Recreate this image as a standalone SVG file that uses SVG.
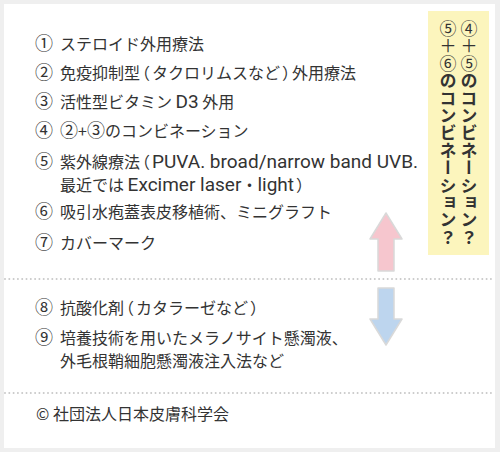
<svg xmlns="http://www.w3.org/2000/svg" width="500" height="452" viewBox="0 0 500 452">
<style>
.t{font-family:"Noto Sans CJK JP","Noto Sans",sans-serif;font-size:16px;fill:#333}
.c{font-size:18px}
.h{font-feature-settings:"halt";letter-spacing:2px}
.l{font-family:Roboto,"Noto Sans CJK JP",sans-serif;font-size:19px}
.v{font-family:"Noto Sans CJK JP",sans-serif;font-size:17px;font-weight:bold;fill:#333;writing-mode:vertical-rl;letter-spacing:0.4px}
.n{font-weight:normal}
.dot{stroke:#c9c9c9;stroke-width:2;stroke-linecap:round;stroke-dasharray:0 4.3;fill:none}
.arr{stroke:#d9d9d9;stroke-width:1.5;stroke-linejoin:round}
</style>
<rect x="0" y="0" width="500" height="452" fill="#efefef"/>
<rect x="4" y="4" width="491" height="444" fill="#ffffff"/>
<g id="combo">
<rect x="428" y="11" width="61" height="244" fill="#fcf5bd"/>
<text class="v" x="469" y="20"><tspan class="n">④＋⑤</tspan>のコンビネーション？</text>
<text class="v" x="448" y="20"><tspan class="n">⑤＋⑥</tspan>のコンビネーション？</text>
</g>
<g id="upper">
<text class="t" x="35" y="50"><tspan class="c">①</tspan><tspan x="60">ステロイド外用療法</tspan></text>
<text class="t" x="35" y="79"><tspan class="c">②</tspan><tspan x="60">免疫抑制型<tspan class="h" dx="2">（</tspan>タクロリムスなど<tspan class="h" dx="2">）</tspan>外用療法</tspan></text>
<text class="t" x="35" y="108"><tspan class="c">③</tspan><tspan x="60">活性型ビタミン <tspan class="l">D3</tspan> 外用</tspan></text>
<text class="t" x="35" y="137"><tspan class="c">④</tspan><tspan x="60"><tspan class="c">②</tspan>+<tspan class="c">③</tspan>のコンビネーション</tspan></text>
<text class="t" x="35" y="168"><tspan class="c">⑤</tspan><tspan x="60">紫外線療法<tspan class="h" dx="2">（</tspan><tspan class="l">PUVA. broad/narrow band UVB.</tspan></tspan></text>
<text class="t" x="60" y="191">最近では <tspan class="l">Excimer laser</tspan>・<tspan class="l">light</tspan><tspan class="h" dx="2">）</tspan></text>
<text class="t" x="35" y="218"><tspan class="c">⑥</tspan><tspan x="60">吸引水疱蓋表皮移植術、ミニグラフト</tspan></text>
<text class="t" x="35" y="249"><tspan class="c">⑦</tspan><tspan x="60">カバーマーク</tspan></text>
</g>
<g id="lower">
<text class="t" x="35" y="314"><tspan class="c">⑧</tspan><tspan x="60">抗酸化剤<tspan class="h" dx="2">（</tspan>カタラーゼなど<tspan class="h" dx="2">）</tspan></tspan></text>
<text class="t" x="35" y="344"><tspan class="c">⑨</tspan><tspan x="60">培養技術を用いたメラノサイト懸濁液、</tspan></text>
<text class="t" x="60" y="367">外毛根鞘細胞懸濁液注入法など</text>
</g>
<g id="connectors">
<line class="dot" x1="5" y1="279" x2="495" y2="279"/>
<line class="dot" x1="5" y1="393" x2="495" y2="393"/>
<path class="arr" fill="#f6c6ce" d="M386,213 L402,239 L394,239 L394,271 L378,271 L378,239 L370,239 Z"/>
<path class="arr" fill="#bdd5ee" d="M378,288 L394,288 L394,319 L402,319 L386,345 L370,319 L378,319 Z"/>
</g>
<g id="footer">
<text class="t" x="36" y="420">© 社団法人日本皮膚科学会</text>
</g>
</svg>
